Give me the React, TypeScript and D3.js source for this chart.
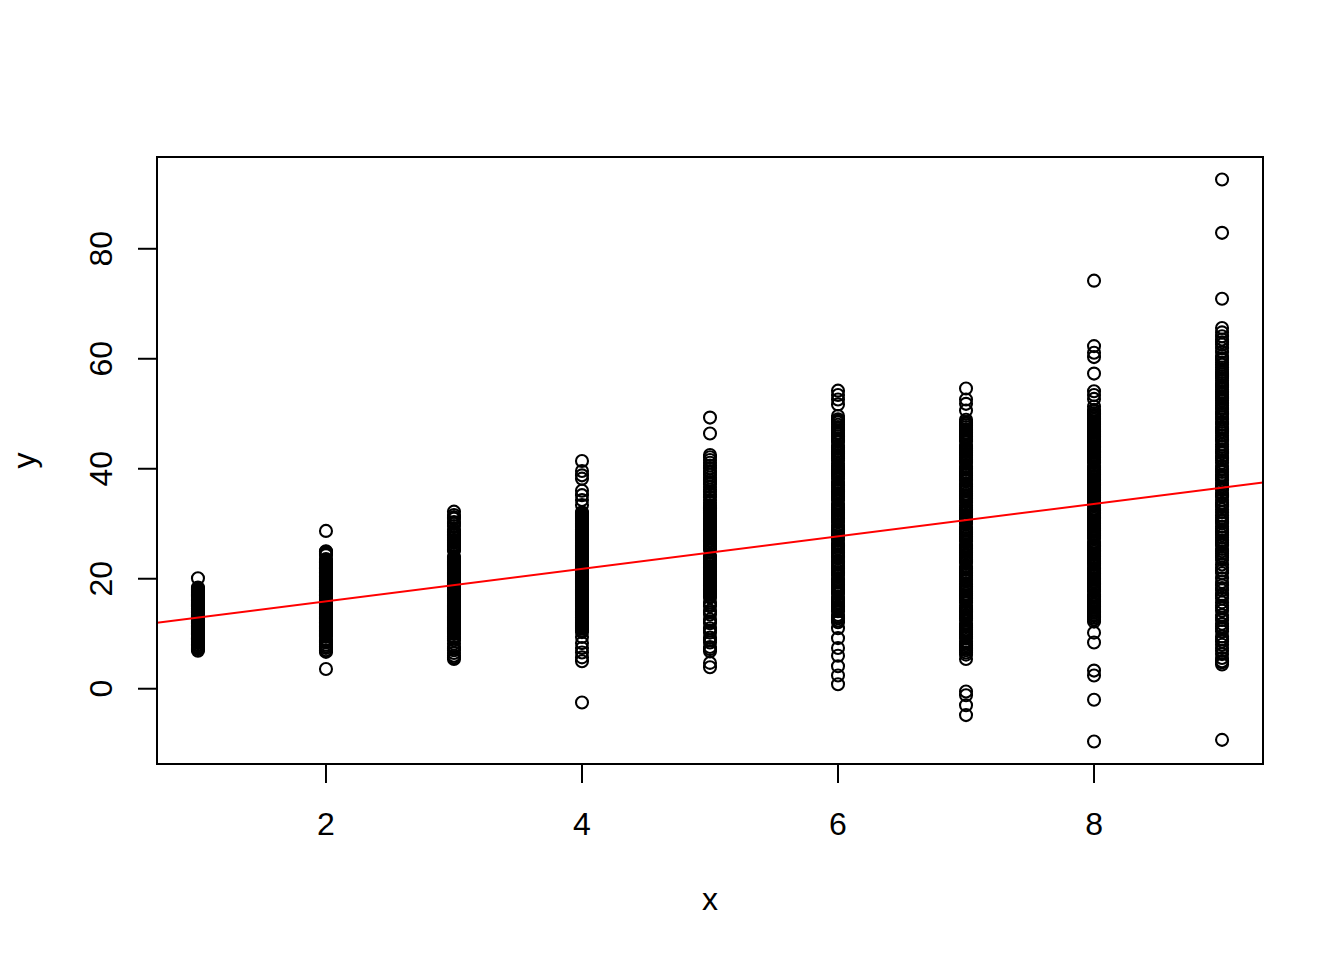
import React from "react";
import * as d3 from "d3";

const xCategories = [1, 2, 3, 4, 5, 6, 7, 8, 9];

const col1 = [20.1, 18.4, 18.1, 17.7, 17.4, 17.0, 16.7, 16.3, 16.0, 15.7, 15.3, 15.0, 14.6, 14.3, 14.0, 13.6, 13.3, 13.0, 12.6, 12.3, 11.9, 11.6, 11.3, 10.9, 10.6, 10.2, 9.9, 9.6, 9.2, 8.9, 8.5, 8.0, 7.6, 7.2, 6.9, 15.5, 13.8, 12.1, 10.4, 9.0,
  18.2, 17.9, 17.5, 17.2, 16.8, 16.5, 16.1, 15.8, 15.2, 14.9, 14.5, 14.2, 13.9, 13.5, 13.2, 12.9, 12.5, 12.2, 11.8, 11.5, 11.2, 10.8, 10.5, 10.1, 9.8, 9.4, 9.1, 8.7, 8.3, 7.9, 7.4];
const col2 = [28.7, 25.0, 24.7, 24.3, 23.6, 23.2, 22.9, 22.5, 22.1, 21.8, 21.4, 21.1, 20.7, 20.4, 20.0, 19.7, 19.3, 19.0, 18.6, 18.3, 17.9, 17.6, 17.2, 16.9, 16.5, 16.2, 15.8, 15.5, 15.1, 14.8, 14.4, 14.1, 13.7, 13.4, 13.0, 12.7, 12.3, 12.0, 11.6, 11.3, 10.9, 10.6, 10.2, 9.9, 9.5, 8.8, 8.4, 8.0, 7.4, 7.0, 6.7, 3.6,
  24.9, 24.5, 23.4, 23.0, 22.7, 22.3, 21.9, 21.6, 21.2, 20.9, 20.5, 20.2, 19.8, 19.5, 19.1, 18.8, 18.4, 18.1, 17.7, 17.4, 17.0, 16.7, 16.3, 16.0, 15.6, 15.3, 14.9, 14.6, 14.2, 13.9, 13.5, 13.2, 12.8, 12.5, 12.1, 11.8, 11.4, 11.1, 10.7, 10.4, 10.0, 9.7, 8.6, 7.7, 6.9];
const col3 = [32.2, 31.6, 30.9, 30.3, 29.6, 28.9, 28.4, 27.9, 27.4, 26.9, 26.5, 26.0, 25.6, 25.1, 24.0, 23.6, 23.2, 22.8, 22.4, 22.0, 21.6, 21.2, 20.8, 20.4, 20.0, 19.6, 19.2, 18.8, 18.4, 18.0, 17.6, 17.2, 16.8, 16.4, 16.0, 15.6, 15.2, 14.8, 14.4, 14.0, 13.6, 13.2, 12.8, 12.4, 12.0, 11.6, 11.2, 10.8, 10.4, 10.0, 9.5, 8.8, 8.2, 7.6, 7.0, 6.5, 6.0, 5.4,
  31.2, 30.0, 28.6, 28.1, 27.6, 27.1, 26.7, 26.2, 25.8, 25.3, 23.8, 23.4, 23.0, 22.6, 22.2, 21.8, 21.4, 21.0, 20.6, 20.2, 19.8, 19.4, 19.0, 18.6, 18.2, 17.8, 17.4, 17.0, 16.6, 16.2, 15.8, 15.4, 15.0, 14.6, 14.2, 13.8, 13.4, 13.0, 12.6, 12.2, 11.8, 11.4, 11.0, 10.6, 10.2, 9.2, 7.3, 5.7];
const col4 = [41.4, 39.6, 38.8, 38.2, 36.0, 35.2, 34.3, 33.4, 32.1, 31.7, 31.3, 30.9, 30.5, 30.1, 29.7, 29.3, 28.9, 28.5, 28.1, 27.7, 27.3, 26.9, 26.5, 26.1, 25.7, 25.3, 24.9, 24.5, 24.1, 23.7, 23.3, 22.9, 22.5, 22.1, 21.7, 21.3, 20.9, 20.5, 20.1, 19.7, 19.3, 18.9, 18.5, 18.1, 17.7, 17.3, 16.9, 16.5, 16.1, 15.7, 15.3, 14.9, 14.5, 14.1, 13.7, 13.3, 12.9, 12.5, 12.1, 11.7, 11.3, 10.9, 10.3, 9.4, 8.3, 7.4, 6.6, 5.7, 5.0, -2.5, 31.5, 29.0, 26.3, 23.9, 21.0, 18.3, 15.5, 13.0,
  31.9, 31.1, 30.7, 30.3, 29.9, 29.5, 28.7, 28.3, 27.9, 27.5, 27.1, 26.7, 25.9, 25.5, 25.1, 24.7, 24.3, 23.5, 23.1, 22.7, 22.3, 21.9, 21.5, 20.7, 20.3, 19.9, 19.5, 19.1, 18.7, 17.9, 17.5, 17.1, 16.7, 16.3, 15.9, 15.1, 14.7, 14.3, 13.9, 13.5, 12.7, 12.3, 11.9, 11.5, 11.1, 10.6];
const col5 = [49.3, 46.4, 42.5, 42.1, 41.6, 40.6, 40.1, 39.6, 38.9, 38.4, 37.9, 37.2, 36.7, 36.2, 35.3, 34.8, 34.3, 33.3, 32.8, 32.3, 31.8, 31.3, 30.8, 30.3, 29.8, 29.3, 28.8, 28.3, 27.8, 27.3, 26.8, 26.3, 25.8, 25.3, 24.1, 23.6, 23.1, 22.6, 22.1, 21.6, 21.1, 20.6, 20.1, 19.6, 19.1, 18.6, 18.1, 17.6, 17.1, 16.6, 15.7, 15.0, 14.2, 13.5, 12.6, 11.9, 11.0, 10.2, 9.3, 8.4, 7.6, 6.8, 4.7, 3.9,
  41.1, 39.3, 37.6, 35.8, 33.8, 33.0, 32.5, 32.0, 31.5, 31.0, 30.5, 30.0, 29.5, 29.0, 28.5, 28.0, 27.5, 27.0, 26.5, 26.0, 25.5, 23.8, 23.3, 22.8, 22.3, 21.8, 21.3, 20.8, 20.3, 19.8, 19.3, 18.8, 18.3, 17.8, 17.3, 16.8, 15.3, 13.9, 12.2, 10.6, 8.8, 7.2];
const col6 = [54.2, 53.4, 52.6, 51.7, 49.6, 49.0, 48.4, 47.6, 47.0, 46.3, 45.5, 44.9, 44.2, 43.6, 42.8, 42.2, 41.5, 40.9, 40.2, 39.6, 38.9, 38.2, 37.6, 37.0, 36.2, 35.6, 34.9, 34.3, 33.6, 32.9, 32.3, 31.7, 31.0, 30.3, 29.7, 29.0, 28.4, 27.7, 27.1, 26.4, 25.8, 25.1, 24.5, 23.8, 23.2, 22.5, 21.9, 21.2, 20.6, 19.9, 19.3, 18.6, 18.0, 17.3, 16.7, 16.0, 15.4, 14.7, 14.1, 13.4, 12.8, 12.1, 11.0, 9.2, 7.4, 6.0, 4.1, 2.4, 0.8,
  48.7, 48.0, 47.3, 46.6, 45.9, 45.2, 43.9, 43.2, 42.5, 41.9, 40.5, 39.9, 39.2, 38.6, 37.3, 36.6, 35.9, 35.3, 34.6, 33.3, 32.6, 32.0, 31.4, 30.7, 29.3, 28.7, 28.0, 27.4, 26.1, 25.5, 24.8, 24.1, 22.9, 22.2, 21.5, 20.9, 19.6, 18.9, 18.3, 17.6, 16.3, 15.7, 15.0, 14.4, 13.1, 12.4];
const col7 = [54.6, 52.6, 51.8, 50.6, 48.9, 48.2, 47.6, 46.9, 46.3, 45.6, 45.0, 44.3, 43.7, 43.0, 42.4, 41.7, 41.1, 40.4, 39.8, 39.1, 38.5, 37.8, 37.2, 36.5, 35.9, 35.2, 34.6, 33.9, 33.3, 32.6, 32.0, 31.3, 30.7, 30.0, 29.4, 28.7, 28.1, 27.4, 26.8, 26.1, 25.5, 24.8, 24.2, 23.5, 22.9, 22.2, 21.6, 20.9, 20.3, 19.6, 19.0, 18.3, 17.7, 17.0, 16.4, 15.7, 15.1, 14.4, 13.8, 13.1, 12.5, 11.8, 11.2, 10.5, 9.9, 9.2, 8.6, 7.9, 7.3, 6.6, 5.4, -0.5, -1.2, -3.0, -4.8,
  48.5, 47.9, 47.2, 46.6, 45.9, 45.3, 44.0, 43.3, 42.7, 42.0, 41.4, 40.1, 39.4, 38.8, 38.1, 36.8, 36.2, 35.5, 34.9, 34.2, 32.9, 32.3, 31.6, 31.0, 30.3, 29.0, 28.4, 27.7, 27.1, 25.8, 25.1, 24.5, 23.8, 23.2, 21.9, 21.2, 20.6, 19.9, 18.6, 18.0, 17.3, 16.7, 16.0, 14.7, 14.1, 13.4, 12.8, 11.5, 10.8, 10.2, 9.5, 8.2, 7.6, 7.0, 6.2];
const col8 = [74.2, 62.3, 61.1, 60.3, 57.3, 54.1, 53.4, 52.7, 51.3, 50.7, 50.1, 49.5, 48.9, 48.3, 47.7, 47.1, 46.5, 45.9, 45.3, 44.7, 44.1, 43.5, 42.9, 42.3, 41.7, 41.1, 40.5, 39.9, 39.3, 38.7, 38.1, 37.5, 36.9, 36.3, 35.7, 35.1, 34.5, 33.9, 33.3, 32.7, 32.1, 31.5, 30.9, 30.3, 29.7, 29.1, 28.5, 27.9, 27.3, 26.7, 26.1, 25.5, 24.9, 24.3, 23.7, 23.1, 22.5, 21.9, 21.3, 20.7, 20.1, 19.5, 18.9, 18.3, 17.7, 17.1, 16.5, 15.9, 15.3, 14.7, 14.1, 13.5, 12.9, 12.2, 10.2, 8.4, 3.3, 2.4, -2.0, -9.6,
  50.4, 49.8, 49.2, 48.6, 48.0, 47.4, 46.8, 46.2, 45.6, 45.0, 44.4, 43.8, 43.2, 42.6, 42.0, 41.4, 40.2, 39.6, 39.0, 38.4, 37.8, 37.2, 36.6, 36.0, 35.4, 34.8, 34.2, 33.6, 32.4, 31.8, 31.2, 30.6, 30.0, 29.4, 28.8, 28.2, 27.6, 26.4, 25.8, 25.2, 24.6, 24.0, 23.4, 22.8, 21.6, 21.0, 20.4, 19.8, 19.2, 18.6, 18.0, 16.8, 16.2, 15.6, 15.0, 14.4, 13.8, 13.2, 12.6];
const col9 = [92.6, 82.9, 70.9, 65.6, 64.8, 63.5, 62.6, 61.9, 60.5, 59.8, 58.9, 58.0, 57.2, 56.5, 55.6, 54.8, 54.0, 53.1, 52.4, 51.5, 50.8, 49.9, 49.0, 48.1, 47.2, 46.5, 45.6, 44.4, 43.5, 42.8, 41.6, 40.5, 39.4, 38.7, 37.9, 36.8, 35.6, 34.9, 33.8, 32.6, 31.5, 30.7, 29.5, 28.4, 27.5, 26.6, 25.4, 24.6, 23.8, 22.6, 21.5, 20.1, 18.8, 17.9, 16.4, 15.1, 14.2, 12.5, 11.3, 10.4, 8.6, 7.4, 6.3, 5.0, 4.4, -9.3,
  60.1, 59.3, 58.4, 57.6, 56.8, 56.0, 55.2, 54.4, 53.5, 52.8, 51.9, 51.1, 50.3, 49.4, 48.5, 47.6, 46.8, 46.0, 45.1, 44.0, 43.1, 42.3, 41.1, 40.0, 38.9, 38.3, 37.4, 36.2, 35.2, 34.3, 33.2, 32.1, 31.1, 30.1, 29.0, 27.9, 27.0, 26.1, 25.0, 24.2, 22.0, 19.4, 17.2, 15.7, 13.4, 11.8, 9.5, 6.9, 5.6,
  64.1, 63.0, 61.2, 53.8, 50.0, 45.3, 41.9, 39.8, 36.5, 33.5, 30.4, 28.7, 26.3, 23.4, 21.0, 18.3, 16.9, 14.7, 12.9, 10.9, 9.0, 8.0, 4.8];

const columns = [col1, col2, col3, col4, col5, col6, col7, col8, col9];

const xTicks = [2, 4, 6, 8];
const yTicks = [0, 20, 40, 60, 80];

// regression line
const lineIntercept = 10.0;
const lineSlope = 2.95;

const W = 1344;
const H = 960;
const left = 157, right = 1263, top = 157, bottom = 764;
const FONT = "'Liberation Sans', Arial, sans-serif";

export default function App() {
  const points = columns.flatMap((vals, i) => vals.map((v) => ({ x: xCategories[i], y: v })));
  const xExt = d3.extent(points, (d) => d.x) as [number, number];
  const yExt = d3.extent(points, (d) => d.y) as [number, number];
  const xr = xExt[1] - xExt[0];
  const yr = yExt[1] - yExt[0];
  const xDom: [number, number] = [xExt[0] - 0.04 * xr, xExt[1] + 0.04 * xr];
  const yDom: [number, number] = [yExt[0] - 0.04 * yr, yExt[1] + 0.04 * yr];
  const x = d3.scaleLinear().domain(xDom).range([left, right]);
  const y = d3.scaleLinear().domain(yDom).range([bottom, top]);

  const line = d3
    .line<number>()
    .x((d) => x(d))
    .y((d) => y(lineIntercept + lineSlope * d));

  return (
    <svg
      width={W}
      height={H}
      style={{ position: "absolute", left: 0, top: 0, background: "#fff" }}
      fontFamily={FONT}
    >
      <rect x={0} y={0} width={W} height={H} fill="#fff" />
      <defs>
        <clipPath id="plotclip">
          <rect x={left} y={top} width={right - left} height={bottom - top} />
        </clipPath>
      </defs>
      <g>
        {points.map((p, i) => (
          <circle key={i} cx={x(p.x)} cy={y(p.y)} r={6} fill="none" stroke="#000" strokeWidth={2.1} />
        ))}
      </g>
      <path
        d={line(xDom) || ""}
        stroke="#ff0000"
        strokeWidth={2}
        fill="none"
        clipPath="url(#plotclip)"
      />
      <rect x={left} y={top} width={right - left} height={bottom - top} fill="none" stroke="#000" strokeWidth={2} />
      {/* x axis */}
      <line x1={x(xTicks[0])} x2={x(xTicks[xTicks.length - 1])} y1={bottom} y2={bottom} stroke="#000" strokeWidth={2} />
      {xTicks.map((t) => (
        <g key={t}>
          <line x1={x(t)} x2={x(t)} y1={bottom} y2={bottom + 19} stroke="#000" strokeWidth={2} />
          <text x={x(t)} y={835} textAnchor="middle" fontSize={32} fill="#000">
            {t}
          </text>
        </g>
      ))}
      {/* y axis */}
      <line x1={left} x2={left} y1={y(yTicks[0])} y2={y(yTicks[yTicks.length - 1])} stroke="#000" strokeWidth={2} />
      {yTicks.map((t) => (
        <g key={t}>
          <line x1={left - 19} x2={left} y1={y(t)} y2={y(t)} stroke="#000" strokeWidth={2} />
          <text
            transform={`translate(112, ${y(t)}) rotate(-90)`}
            textAnchor="middle"
            fontSize={32}
            fill="#000"
          >
            {t}
          </text>
        </g>
      ))}
      <text x={(left + right) / 2} y={910} textAnchor="middle" fontSize={32} fill="#000">
        x
      </text>
      <text transform={`translate(35, ${(top + bottom) / 2}) rotate(-90)`} textAnchor="middle" fontSize={32} fill="#000">
        y
      </text>
    </svg>
  );
}
